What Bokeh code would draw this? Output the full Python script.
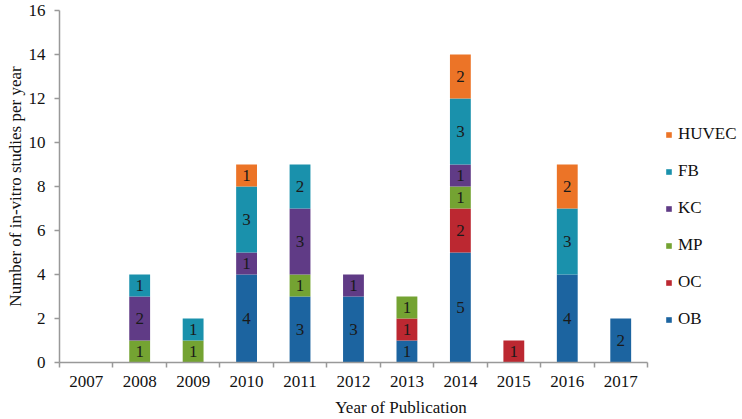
from bokeh.plotting import figure
from bokeh.models import (ColumnDataSource, Range1d, FixedTicker, Legend, LegendItem, LabelSet)
from bokeh.embed import file_html
from bokeh.resources import INLINE

years = ["2007", "2008", "2009", "2010", "2011", "2012", "2013", "2014", "2015", "2016", "2017"]
series = ["OB", "OC", "MP", "KC", "FB", "HUVEC"]
OB    = [0, 0, 0, 4, 3, 3, 1, 5, 0, 4, 2]
OC    = [0, 0, 0, 0, 0, 0, 1, 2, 1, 0, 0]
MP    = [0, 1, 1, 0, 1, 0, 1, 1, 0, 0, 0]
KC    = [0, 2, 0, 1, 3, 1, 0, 1, 0, 0, 0]
FB    = [0, 1, 1, 3, 2, 0, 0, 3, 0, 3, 0]
HUVEC = [0, 0, 0, 1, 0, 0, 0, 2, 0, 2, 0]
colors = ["#1c64a0", "#bc2831", "#74a332", "#603b86", "#1a91ac", "#ec7427"]
y_ticks = [0, 2, 4, 6, 8, 10, 12, 14, 16]
x_title = "Year of Publication"
y_title = "Number of in-vitro studies per year"

values = {"OB": OB, "OC": OC, "MP": MP, "KC": KC, "FB": FB, "HUVEC": HUVEC}
xs = list(range(len(years)))
data = {"x": xs}
data.update(values)
src = ColumnDataSource(data)

FONT = "Liberation Serif"
W, H = 742, 419
BL, BR, BT, BB = 59, 0, 10, 56
PX_PER_CAT = 53.45
p = figure(width=W, height=H, output_backend="svg", toolbar_location=None,
           x_range=Range1d(-0.5, -0.5 + (W - BL - BR) / PX_PER_CAT), y_range=Range1d(0, 16),
           min_border_left=BL, min_border_right=BR, min_border_top=BT, min_border_bottom=BB)
p.outline_line_color = None
p.xgrid.grid_line_color = None
p.ygrid.grid_line_color = None
p.background_fill_color = "white"
p.border_fill_color = "white"

renderers = p.vbar_stack(series, x="x", width=0.39, color=colors, line_color=None, source=src)

# segment labels
lx, ly, lt = [], [], []
for i in xs:
    base = 0
    for s in series:
        v = values[s][i]
        if v > 0:
            lx.append(i)
            ly.append(base + v / 2)
            lt.append(str(v))
        base += v
lsrc = ColumnDataSource(dict(x=lx, y=ly, t=lt))
labels = LabelSet(x="x", y="y", text="t", source=lsrc, text_align="center", text_baseline="middle",
                  text_font=FONT, text_font_size="17px", text_color="#1a1a1a")
p.add_layout(labels)

# x axis
xa = p.xaxis[0]
xa.ticker = FixedTicker(ticks=xs, minor_ticks=[i - 0.5 for i in range(len(years) + 1)])
xa.major_label_overrides = {i: years[i] for i in xs}
xa.major_tick_out = 0
xa.major_tick_in = 0
xa.minor_tick_out = 5
xa.minor_tick_in = 0
xa.minor_tick_line_color = "#999999"
xa.minor_tick_line_width = 1.5
xa.bounds = (-0.5, 10.5)
xa.axis_line_color = "#999999"
xa.axis_line_width = 1.5
xa.major_label_standoff = 8
xa.major_label_text_font = FONT
xa.major_label_text_font_size = "17px"
xa.major_label_text_color = "#111111"
xa.axis_label = x_title
xa.axis_label_text_font = FONT
xa.axis_label_text_font_size = "17px"
xa.axis_label_text_font_style = "normal"
xa.axis_label_text_color = "#111111"
xa.axis_label_standoff = 8

ya = p.yaxis[0]
ya.ticker = FixedTicker(ticks=y_ticks, minor_ticks=[])
ya.major_tick_out = 5
ya.major_tick_in = 0
ya.major_tick_line_color = "#999999"
ya.major_tick_line_width = 1.5
ya.minor_tick_out = 0
ya.minor_tick_in = 0
ya.axis_line_color = "#999999"
ya.axis_line_width = 1.5
ya.major_label_standoff = 9
ya.major_label_text_font = FONT
ya.major_label_text_font_size = "17px"
ya.major_label_text_color = "#111111"
ya.axis_label = y_title
ya.axis_label_text_font = FONT
ya.axis_label_text_font_size = "17px"
ya.axis_label_text_font_style = "normal"
ya.axis_label_text_color = "#111111"
ya.axis_label_standoff = 1

items = [LegendItem(label=s, renderers=[r]) for s, r in zip(series, renderers)][::-1]
legend = Legend(items=items, location=(606, 33), padding=0, margin=0, spacing=17,
                glyph_width=7, glyph_height=7, label_height=20, label_standoff=6,
                label_text_font=FONT, label_text_font_size="17px", label_text_color="#111111",
                border_line_color=None, background_fill_alpha=0)
p.add_layout(legend)

open("out.html", "w").write(file_html(p, INLINE))
